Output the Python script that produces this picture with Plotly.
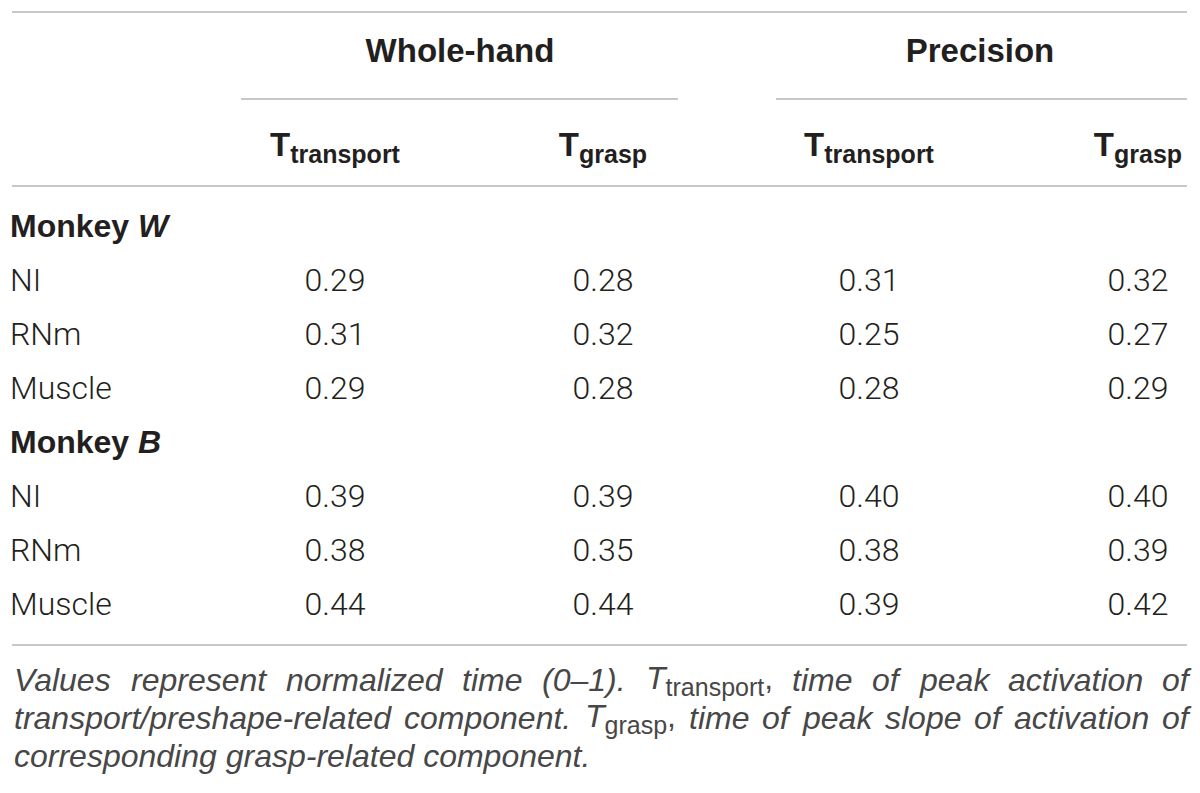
import plotly.graph_objects as go

# table content
groups = ["Whole-hand", "Precision"]
col_heads = ["T|transport", "T|grasp", "T|transport", "T|grasp"]
monkeys = ["W", "B"]
areas = ["NI", "RNm", "Muscle"]

monkey_w = [
    [0.29, 0.28, 0.31, 0.32],
    [0.31, 0.32, 0.25, 0.27],
    [0.29, 0.28, 0.28, 0.29],
]
monkey_b = [
    [0.39, 0.39, 0.40, 0.40],
    [0.38, 0.35, 0.38, 0.39],
    [0.44, 0.44, 0.39, 0.42],
]

# caption words; "T|sub|tail" marks a T with subscript
caption_1 = ["Values", "represent", "normalized", "time", "(0\u20131).",
             "T|transport|,", "time", "of", "peak", "activation", "of"]
caption_2 = ["transport/preshape-related", "component.", "T|grasp|,",
             "time", "of", "peak", "slope", "of", "activation", "of"]
caption_3 = "corresponding grasp-related component."

# layout (pixels)
W, H = 1200, 793
col_x = [335, 603, 869, 1138]
group_x = [460, 980]
row_top, row_step = 229, 54
left, right = 12, 1187

TXT = "#231f20"
LINE = "#c8c8c8"
BODY = dict(family="Roboto, Liberation Sans, sans-serif", size=32, color=TXT, weight=300)
BOLD = dict(family="Liberation Sans, Arial, sans-serif", size=33, color=TXT)
CAP_SIZE, CAP_SUB = 32, 25
CAP = dict(family="Liberation Sans, Arial, sans-serif", size=CAP_SIZE, color="#474747")

# Arial / Liberation Sans advance widths (1/1000 em) for justifying the caption
ADV = dict(zip("abcdefghijklmnopqrstuvwxyz",
               [556, 556, 500, 556, 556, 278, 556, 556, 222, 222, 500, 222, 833,
                556, 556, 556, 556, 333, 500, 278, 556, 500, 722, 500, 500, 500]))
ADV.update({"V": 667, "T": 611, "(": 333, ")": 333, "0": 556, "1": 556,
            "\u2013": 556, ".": 278, ",": 278, "/": 278, "-": 333, " ": 278})


def adv(s, size):
    return sum(ADV.get(c, 556) for c in s) / 1000 * size


def cap_word(w):
    if "|" in w:
        t, sub, tail = w.split("|")
        html = (f'<i>{t}</i><sub><span style="font-size:{CAP_SUB}px">{sub}</span></sub>{tail}')
        width = adv(t, CAP_SIZE) + adv(sub, CAP_SUB) + adv(tail, CAP_SIZE)
    else:
        html = f"<i>{w}</i>"
        width = adv(w, CAP_SIZE)
    return html, width


label_x, label_y, label_t = [], [], []
cell_x, cell_y, cell_t = [], [], []
r = 0
for m, block in zip(monkeys, [monkey_w, monkey_b]):
    label_x.append(10)
    label_y.append(row_top + r * row_step)
    label_t.append(f'<b><span style="font-family:Liberation Sans;font-weight:bold">Monkey <i>{m}</i></span></b>')
    r += 1
    for area, vals in zip(areas, block):
        y = row_top + r * row_step
        label_x.append(10)
        label_y.append(y)
        label_t.append(area)
        for cx, v in zip(col_x, vals):
            cell_x.append(cx)
            cell_y.append(y)
            cell_t.append(f"{v:.2f}")
        r += 1

head_t = []
for h in col_heads:
    t, sub = h.split("|")
    head_t.append(f'<b>{t}<sub><span style="font-size:25px">{sub}</span></sub></b>')

fig = go.Figure()
fig.add_trace(go.Scatter(x=label_x, y=label_y, text=label_t, mode="text",
                         textposition="middle right", textfont=BODY, hoverinfo="skip"))
fig.add_trace(go.Scatter(x=cell_x, y=cell_y, text=cell_t, mode="text",
                         textposition="middle center", textfont=BODY, hoverinfo="skip"))
fig.add_trace(go.Scatter(x=col_x, y=[148] * 4, text=head_t,
                         mode="text", textposition="middle center", textfont=BOLD, hoverinfo="skip"))
fig.add_trace(go.Scatter(x=group_x, y=[54] * 2, text=[f"<b>{g}</b>" for g in groups],
                         mode="text", textposition="middle center", textfont=BOLD, hoverinfo="skip"))

# rules
for y0, x0, x1 in [(12, left, right), (99, 241, 678), (99, 776, right), (186, left, right), (645, left, right)]:
    fig.add_shape(type="line", x0=x0, x1=x1, y0=y0, y1=y0, xref="x", yref="y",
                  line=dict(color=LINE, width=2))

# caption: first two lines justified word by word
for words, y in [(caption_1, 680), (caption_2, 718)]:
    parts = [cap_word(w) for w in words]
    total = sum(p[1] for p in parts)
    gap = (right - left - total) / (len(parts) - 1)
    x = left
    for html, width in parts:
        fig.add_annotation(x=x, y=y, xref="x", yref="y", text=html, showarrow=False,
                           xanchor="left", yanchor="middle", font=CAP)
        x += width + gap
fig.add_annotation(x=left, y=756, xref="x", yref="y", text=f"<i>{caption_3}</i>", showarrow=False,
                   xanchor="left", yanchor="middle", font=CAP)

fig.update_layout(
    width=W, height=H,
    margin=dict(l=0, r=0, t=0, b=0),
    paper_bgcolor="white", plot_bgcolor="white",
    showlegend=False,
    xaxis=dict(range=[0, W], visible=False, fixedrange=True),
    yaxis=dict(range=[H, 0], visible=False, fixedrange=True),
)

fig.write_html("out.html", config={"displayModeBar": False},
               post_script="document.body.style.margin='0px';")
